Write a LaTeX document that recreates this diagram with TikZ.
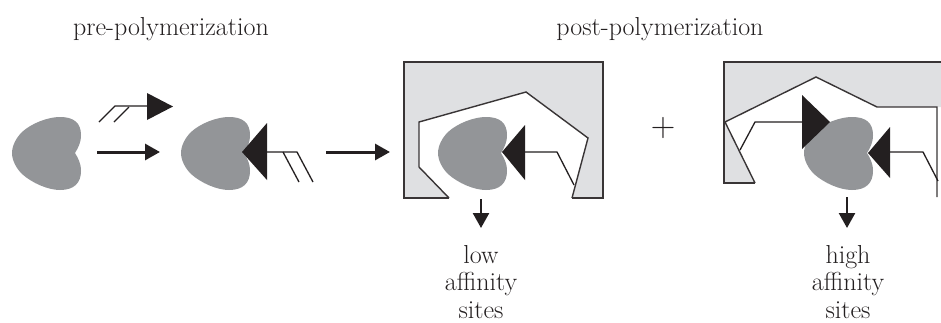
\documentclass[tikz,border=0pt]{standalone}
\usetikzlibrary{arrows.meta}
\definecolor{heartgray}{HTML}{939598}
\definecolor{wallgray}{HTML}{DFE0E2}
\definecolor{ink}{HTML}{231F20}
\begin{document}
\begin{tikzpicture}[x=1pt,y=-1pt,
  heart/.pic={
    \fill[heartgray] (29,0)
      .. controls (32,-5) and (35,-10) .. (35,-18)
      .. controls (35,-30) and (28,-36) .. (14,-36)
      .. controls (2,-36) and (-14,-30) .. (-24,-21)
      .. controls (-30,-15) and (-34,-7) .. (-34,0)
      .. controls (-34,7) and (-30,15) .. (-24,21)
      .. controls (-14,30) and (2,37) .. (14,37)
      .. controls (28,37) and (35,30) .. (35,18)
      .. controls (35,10) and (32,5) .. (29,0) -- cycle;
  },
  wedge/.style={fill=ink},
  strand/.style={draw=ink,line width=1.3pt,line join=miter},
  wall/.style={draw=ink!90,line width=1.4pt,line join=miter},
  bigarrow/.style={draw=ink,line width=3pt,-{Triangle[length=15pt,width=16pt]}},
  downarrow/.style={draw=ink,line width=2.5pt,-{Triangle[length=15pt,width=16pt]}},
  title/.style={font=\fontsize{26}{30}\selectfont,text=ink,inner sep=0pt,anchor=base},
  sitelabel/.style={font=\fontsize{26}{27.5}\selectfont,text=ink,inner sep=0pt,align=center,anchor=north}
]
\useasboundingbox (0,0) rectangle (941,322);

% headings
\node[title] (pretitle) at (171,35) {pre-polymerization};
\node[title] (posttitle) at (660,35) {post-polymerization};

% free template
\pic at (46,153) {heart};

% free functional monomer
\draw[strand] (99,122) -- (115,106) -- (147,106);
\draw[strand] (114,122) -- (129,107);
\fill[wedge] (147,93) -- (173,106.5) -- (147,120) -- cycle;

% template with bound monomer
\pic at (215,153) {heart};
\fill[wedge] (242,152) -- (267,123) -- (267,180) -- cycle;
\draw[strand] (267,152) -- (297,152) -- (313,182);
\draw[strand] (283,152) -- (299,182);

% reaction arrows
\coordinate (a1from) at (97,152);
\coordinate (a1to) at (160,152);
\coordinate (a2from) at (326,152);
\coordinate (a2to) at (390,152);
\draw[bigarrow] (a1from) -- (a1to);
\draw[bigarrow] (a2from) -- (a2to);

% polymer block with one bound site
\fill[wallgray] (404,62) rectangle (603,198);
\fill[white] (449,198) -- (419,167) -- (419,122) -- (526,92) -- (588,138) -- (572,198) -- cycle;
\draw[wall] (449,198) -- (404,198) -- (404,62) -- (603,62) -- (603,198) -- (572,198);
\draw[wall] (449,198) -- (419,167) -- (419,122) -- (526,92) -- (588,138) -- (572,198);
\pic at (472,153) {heart};
\fill[wedge] (502,152) -- (525,125) -- (525,180) -- cycle;
\draw[strand] (525,152) -- (557,152) -- (574,185);

% plus sign
\node[font=\fontsize{34}{34}\selectfont,text=ink,inner sep=0pt] (plus) at (663,128) {+};

% polymer block with two bound sites
\fill[wallgray] (724,62) -- (941,62) -- (941,107) -- (877,107) -- (816,77) -- (725,122) -- cycle;
\fill[wallgray] (724,122) -- (724,183) -- (755,183) -- cycle;
\draw[wall] (941,62) -- (724,62) -- (724,183) -- (755,183);
\draw[wall] (755,183) -- (725,122) -- (816,77) -- (877,107) -- (937,107) -- (937,197);
\draw[strand] (740,150) -- (755,122) -- (802,122);
\pic at (838,153) {heart};
\fill[wedge] (802,95) -- (830,122) -- (802,149) -- cycle;
\fill[wedge] (868,153) -- (890,127) -- (890,178) -- cycle;
\draw[strand] (890,152) -- (923,152) -- (938,181);

% site arrows and labels
\coordinate (lowfrom) at (481,199);
\coordinate (lowto) at (481,228);
\coordinate (highfrom) at (847,197);
\coordinate (highto) at (847,228);
\draw[downarrow] (lowfrom) -- (lowto);
\draw[downarrow] (highfrom) -- (highto);
\node[sitelabel] (lowlabel) at (481,245) {low\\affinity\\sites};
\node[sitelabel] (highlabel) at (848,245) {high\\affinity\\sites};
\end{tikzpicture}
\end{document}
